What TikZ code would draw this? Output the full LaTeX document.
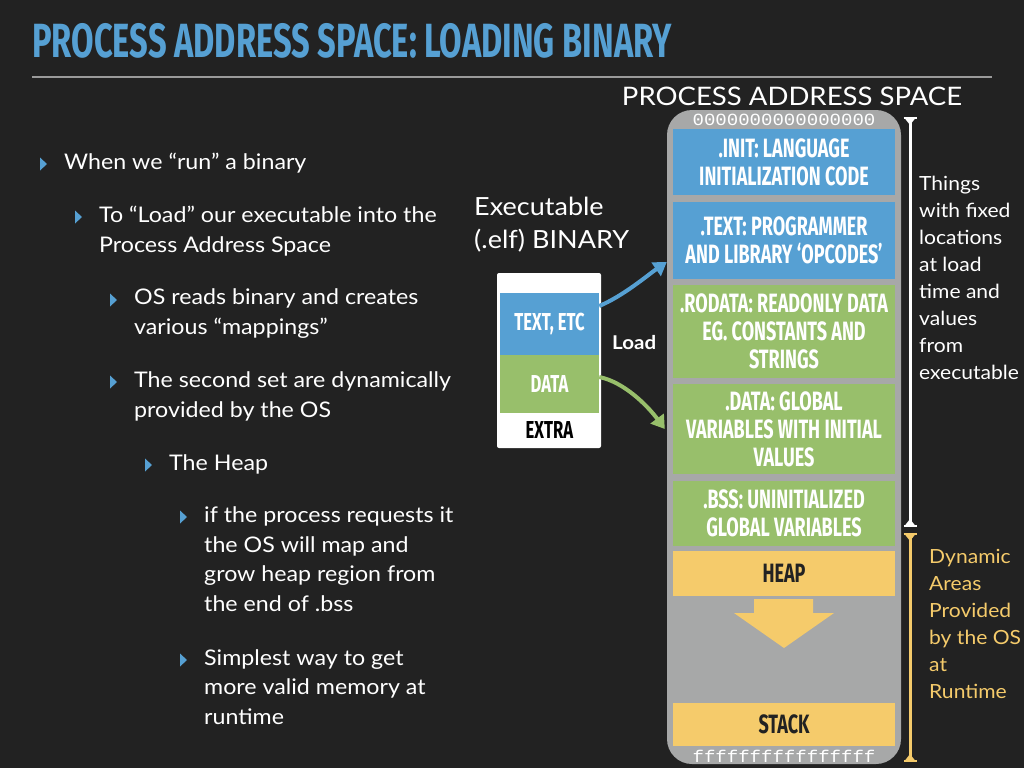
\documentclass[tikz,border=0pt]{standalone}
\usepackage{fontspec}
\setmainfont[FakeStretch=1.08]{Lato}
\newfontfamily\condfont[FakeStretch=0.68]{Fira Sans}
\newfontfamily\addrfont[FakeStretch=1.12]{Liberation Mono}
\usetikzlibrary{arrows.meta}
\definecolor{slidebg}{HTML}{222222}
\definecolor{segblue}{HTML}{56A0D3}
\definecolor{seggreen}{HTML}{98BF6B}
\definecolor{segyellow}{HTML}{F5CB6B}
\definecolor{spacegray}{HTML}{A7A8A8}
\definecolor{rulegray}{HTML}{9A9A9A}

\begin{document}
\begin{tikzpicture}[x=1pt, y=-1pt,
    seg/.style={minimum width=222pt, inner sep=0pt, align=center, text=white,
      font=\condfont\bfseries\fontsize{26.5}{28}\selectfont},
    bluesect/.style={seg, fill=segblue},
    greensect/.style={seg, fill=seggreen},
    yellowsect/.style={seg, fill=segyellow, text=slidebg},
    elfsect/.style={minimum width=99pt, inner sep=0pt, text=white,
      font=\condfont\bfseries\fontsize{24.5}{26}\selectfont},
    body/.style={anchor=base west, inner sep=0pt, align=left, text=white,
      font=\fontsize{21.5}{29.5}\selectfont},
    side/.style={anchor=base west, inner sep=0pt, align=left,
      font=\fontsize{19.5}{27}\selectfont},
    addr/.style={inner sep=0pt, text=white, font=\addrfont\fontsize{17}{17}\selectfont},
    bracket/.style={line width=3pt,
      {Bar[width=13pt,line width=2pt]Triangle[reversed,length=6pt,width=9pt]}-{Triangle[reversed,length=6pt,width=9pt]Bar[width=13pt,line width=2pt]}},
    load/.style={line width=4pt, -{Triangle[length=13pt,width=16pt]}}]
  \useasboundingbox (0,0) rectangle (1024,768);
  \fill[slidebg] (0,0) rectangle (1024,768);

  % title
  \node[anchor=base west, inner sep=0pt, text=segblue, font=\condfont\bfseries\fontsize{48}{48}\selectfont]
    (title) at (32,58) {PROCESS ADDRESS SPACE: LOADING BINARY};
  \draw[rulegray, line width=2pt] (32,77) -- (992,77);

  % bullet list (multi-line nodes sit on their last baseline)
  \foreach \x/\y in {40/164, 75/217, 110/300, 110/382, 145/465, 180/517, 180/660}
    \fill[segblue] (\x,\y-6.5) -- (\x+7,\y) -- (\x,\y+6.5) -- cycle;
  \node[body] (run) at (64,169) {When we “run” a binary};
  \node[body] (load) at (99,252) {To “Load” our executable into the\\Process Address Space};
  \node[body] (reads) at (134,334) {OS reads binary and creates\\various “mappings”};
  \node[body] (second) at (134,417) {The second set are dynamically\\provided by the OS};
  \node[body] (heapitem) at (169,470) {The Heap};
  \node[body] (request) at (204,611) {if the process requests it\\the OS will map and\\grow heap region from\\the end of .bss};
  \node[body] (simplest) at (204,724) {Simplest  way to get\\more valid memory at\\runtime};

  % executable
  \node[anchor=base west, inner sep=0pt, align=left, text=white, font=\fontsize{25}{33}\selectfont]
    (exelabel) at (474,248) {Executable\\(.elf) BINARY};
  \node[fill=white, rounded corners=2pt, minimum width=104pt, minimum height=175pt, inner sep=0pt] (elf) at (549,360.5) {};
  \node[elfsect, fill=segblue, minimum height=62pt] (textetc) at (549.5,324) {TEXT, ETC};
  \node[elfsect, fill=seggreen, minimum height=58pt] (dataetc) at (549.5,384) {DATA};
  \node[elfsect, text=black] (extra) at (549.5,430) {EXTRA};
  \node[anchor=base west, inner sep=0pt, text=white, font=\bfseries\fontsize{19}{19}\selectfont] (loadlabel) at (612,349) {Load};

  % process address space
  \node[anchor=base, inner sep=0pt, text=white, font=\fontsize{25.5}{25.5}\selectfont] (pastitle) at (792,105) {PROCESS ADDRESS SPACE};
  \fill[spacegray, rounded corners=25pt] (667,110) rectangle (901,764);
  \node[addr] (zeros) at (784,120) {0000000000000000};
  \node[bluesect, minimum height=66pt] (init) at (784,162) {.INIT: LANGUAGE\\INITIALIZATION CODE};
  \node[bluesect, minimum height=77pt] (text) at (784,240.5) {.TEXT: PROGRAMMER\\AND LIBRARY ‘OPCODES’};
  \node[greensect, minimum height=93pt] (rodata) at (784,331.5) {.RODATA: READONLY DATA\\EG. CONSTANTS AND\\STRINGS};
  \node[greensect, minimum height=90pt] (data) at (784,429) {.DATA: GLOBAL\\VARIABLES WITH INITIAL\\VALUES};
  \node[greensect, minimum height=65pt] (bss) at (784,513.5) {.BSS: UNINITIALIZED\\GLOBAL VARIABLES};
  \node[yellowsect, minimum height=45pt] (heap) at (784,573.5) {HEAP};
  \fill[segyellow] (754,599) -- (813,599) -- (813,613) -- (834,613) -- (784,648)
    -- (734,613) -- (754,613) -- cycle;
  \node[yellowsect, minimum height=43pt] (stack) at (784,724.5) {STACK};
  \node[addr] (effs) at (784,756) {ffffffffffffffff};

  % load arrows
  \draw[load, segblue] ([yshift=18pt]textetc.east) .. controls +(24,-10) and +(-19,13) .. ([xshift=-6pt,yshift=-21.5pt]text.west);
  \draw[load, seggreen] ([yshift=7pt]dataetc.east) .. controls +(25,5) and +(-17,-23) .. ([xshift=-8pt]data.west);

  % brackets
  \coordinate (fixedtop) at (910,117);
  \coordinate (fixedbot) at (910,527);
  \coordinate (dyntop) at (910,533);
  \coordinate (dynbot) at (910,762);
  \draw[bracket, white] (fixedtop) -- (fixedbot);
  \draw[bracket, segyellow] (dyntop) -- (dynbot);
  \node[side, text=white] (fixed) at (919,379) {Things\\with fixed\\locations\\at load\\time and\\values\\from\\executable};
  \node[side, text=segyellow] (dynamic) at (929,698) {Dynamic\\Areas\\Provided\\by the OS\\at\\Runtime};
\end{tikzpicture}
\end{document}
